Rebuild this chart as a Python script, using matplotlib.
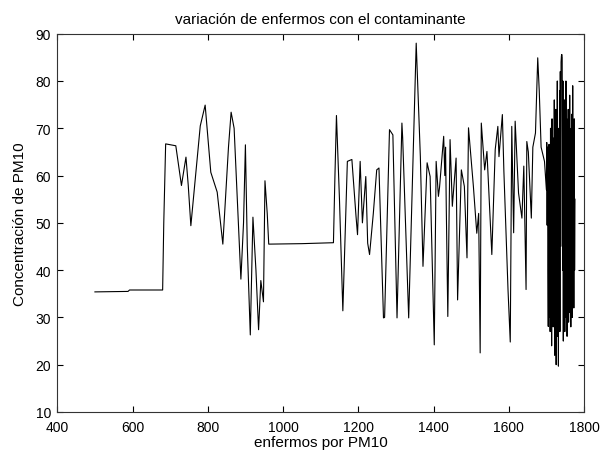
import matplotlib
matplotlib.use("Agg")
import matplotlib.pyplot as plt

plt.rcParams['font.family'] = ['Liberation Sans', 'DejaVu Sans']

title = "variación de enfermos con el contaminante"
xlabel = "enfermos por PM10"
ylabel = "Concentración de PM10"

x_sparse = [500, 588, 592, 680, 683, 688, 715, 730, 742, 748, 755, 770, 780, 793, 808, 825, 840,
            855, 862, 870, 888, 895, 900, 905, 913, 920, 928, 935, 941, 948, 952, 958, 962, 1050,
            1134, 1138, 1142, 1150, 1159, 1171, 1183, 1194, 1198, 1205, 1211, 1220, 1225, 1230,
            1240, 1249, 1255, 1267, 1270, 1283, 1292, 1303, 1316, 1318, 1334, 1354, 1365, 1372,
            1383, 1391, 1402, 1407, 1413, 1416, 1427, 1430, 1432, 1434, 1438, 1444, 1450, 1460,
            1464, 1474, 1482, 1489, 1493, 1506, 1515, 1520, 1524, 1527, 1536, 1542, 1555, 1564,
            1571, 1574, 1583, 1587, 1598, 1604, 1608, 1613, 1617, 1626, 1635, 1640, 1646, 1648,
            1652, 1660, 1664, 1671, 1677, 1681, 1686, 1695]
y_sparse = [35.4, 35.5, 35.8, 35.8, 50, 66.7, 66.3, 57.9, 63.9, 58, 49.4, 62, 70.5, 74.9, 60.7,
            56.5, 45.5, 66, 73.4, 70, 38.1, 50, 66.5, 45, 26.3, 51.2, 40, 27.4, 37.8, 33.3, 58.9,
            52, 45.5, 45.6, 45.8, 60, 72.7, 55, 31.4, 63, 63.4, 51.4, 47.5, 63, 50, 59.8, 45.7,
            43.3, 52, 61.2, 61.6, 29.9, 30, 69.7, 68.6, 29.9, 71.1, 68, 29.9, 88, 64, 40.8, 62.7,
            59.8, 24.2, 63, 55.6, 57.5, 68.3, 60, 66, 52.8, 30.2, 67.6, 53.5, 63.7, 33.7, 61.2,
            57.7, 42.6, 70.1, 57.7, 47.8, 52, 22.5, 71.1, 61.2, 65.1, 43.3, 65.5, 70.4, 64, 72.9,
            61, 35.9, 24.8, 70.4, 47.9, 71.5, 56.3, 51, 62, 35.9, 67.2, 65, 51, 66, 69, 84.9, 78,
            66, 63]

x_dense = [1700, 1701, 1702, 1703, 1704, 1705, 1706, 1707, 1708, 1709, 1710, 1711, 1712, 1713,
           1714, 1715, 1716, 1717, 1718, 1719, 1720, 1721, 1722, 1723, 1724, 1725, 1726, 1727,
           1728, 1729, 1730, 1731, 1732, 1733, 1734, 1735, 1736, 1737, 1738, 1739, 1740, 1741,
           1742, 1743, 1744, 1745, 1746, 1747, 1748, 1749, 1750, 1751, 1752, 1753, 1754, 1755,
           1756, 1757, 1758, 1759, 1760, 1761, 1762, 1763, 1764, 1765, 1766, 1767, 1768, 1769,
           1770, 1771, 1772, 1773, 1774, 1775, 1776]
y_dense = [57, 67, 49.5, 66, 40, 28.1, 51.5, 66.6, 30, 62, 27, 70, 35, 58, 24, 72, 40, 68, 28,
           55, 33, 76, 22, 65, 30, 74, 20, 66, 38, 80, 26, 70, 19.7, 62, 32, 78, 27, 82, 45, 84,
           85.3, 85.6, 85, 40, 80, 25, 72, 30, 76, 27, 66, 38, 80, 30, 72, 26, 60, 35, 74, 29,
           68, 40, 77, 31, 62, 28, 70, 34, 73, 30, 79, 36, 65, 32, 72, 40, 55]

enfermos = x_sparse + x_dense
pm10 = y_sparse + y_dense

fig = plt.figure(figsize=(6.02, 4.52), dpi=100, facecolor='white')
ax = fig.add_axes([57.3/602, 1 - 413/452, (584 - 57.3)/602, (413 - 34.7)/452])
ax.plot(enfermos, pm10, color='black', linewidth=0.8)
ax.set_xlim(400, 1800)
ax.set_ylim(10, 90)
ax.set_xticks(range(400, 1801, 200))
ax.set_yticks(range(10, 91, 10))
ax.tick_params(direction='in', length=4, width=0.8, top=True, right=True,
               labelsize=10, colors='black')
ax.tick_params(axis='x', pad=6)
ax.tick_params(axis='y', pad=4.5)
for s in ax.spines.values():
    s.set_linewidth(0.8)
    s.set_color('#333333')
ax.set_title(title, fontsize=11, pad=8)
ax.set_xlabel(xlabel, fontsize=11, labelpad=0.5)
ax.set_ylabel(ylabel, fontsize=11, labelpad=6)
fig.savefig("out.png", dpi=100, facecolor='white')
